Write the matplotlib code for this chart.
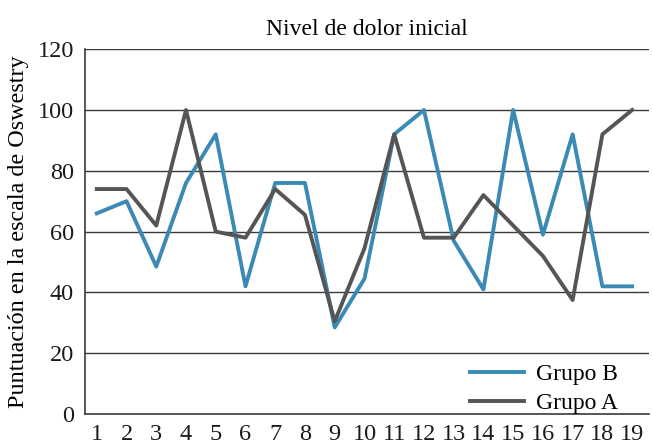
import matplotlib
matplotlib.use('Agg')
import matplotlib.pyplot as plt

pacientes = list(range(1, 20))
grupo_b = [66, 70, 48.5, 76, 92, 42, 76, 76, 28.5, 44.5, 92, 100, 57, 41, 100, 59, 92, 42, 42]
grupo_a = [74, 74, 62, 100, 60, 58, 74, 65.5, 30.5, 54.5, 92, 58, 58, 72, 62, 52, 37.5, 92, 100]
y_ticks = [0, 20, 40, 60, 80, 100, 120]

plt.rcParams['font.family'] = ['Liberation Serif', 'DejaVu Serif']

fig = plt.figure(figsize=(6.53, 4.46), dpi=100)
ax = fig.add_axes([0.130, 0.0717, 0.864, 0.818])

# grid lines behind the data
for y in y_ticks[1:]:
    ax.axhline(y, color='#3a3a3a', linewidth=1.0, zorder=1)

ax.plot(pacientes, grupo_b, color='#3a8ab5', linewidth=2.8, label='Grupo B', zorder=3)
ax.plot(pacientes, grupo_a, color='#555555', linewidth=2.8, label='Grupo A', zorder=3)

ax.set_xlim(0.6, 19.57)
ax.set_ylim(0, 120)
ax.set_xticks(pacientes)
ax.set_yticks(y_ticks)
ax.tick_params(axis='both', length=0, labelsize=17.5, colors='#1a1a1a')
ax.tick_params(axis='x', pad=7)
ax.tick_params(axis='y', pad=8)

for s in ['top', 'right']:
    ax.spines[s].set_visible(False)
for s in ['left', 'bottom']:
    ax.spines[s].set_color('#3a3a3a')
    ax.spines[s].set_linewidth(1.2)

ax.set_title('Nivel de dolor inicial', fontsize=17, pad=10)
ax.set_ylabel('Puntuación en la escala de Oswestry', fontsize=17.4, labelpad=6)

ax.legend(loc='lower right', bbox_to_anchor=(0.945, 0.0), frameon=False, fontsize=17,
          handlelength=2.3, handletextpad=0.5, borderaxespad=0, borderpad=0,
          labelspacing=0.3)

fig.savefig('out.png', dpi=100)
